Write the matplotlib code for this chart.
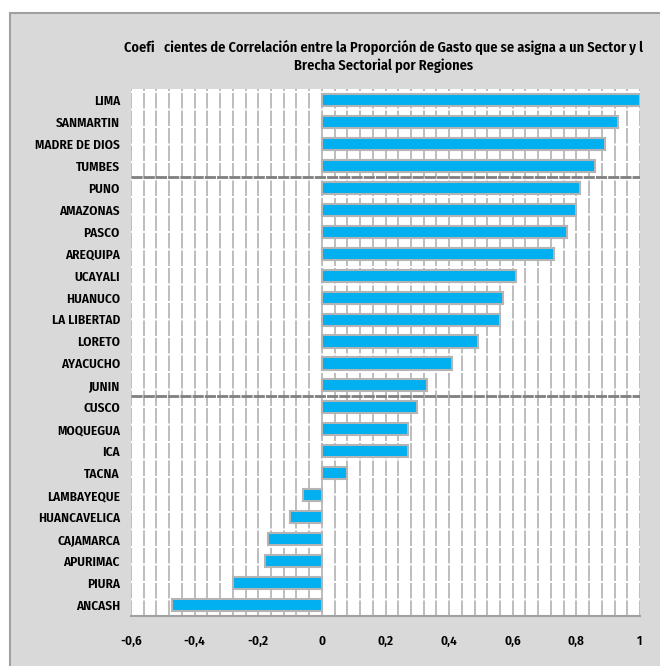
import matplotlib
matplotlib.use("Agg")
import matplotlib.pyplot as plt
from matplotlib.patches import Rectangle
import numpy as np

# regions, top to bottom
regiones = ["LIMA", "SANMARTIN", "MADRE DE DIOS", "TUMBES", "PUNO", "AMAZONAS",
            "PASCO", "AREQUIPA", "UCAYALI", "HUANUCO", "LA LIBERTAD", "LORETO",
            "AYACUCHO", "JUNIN", "CUSCO", "MOQUEGUA", "ICA", "TACNA",
            "LAMBAYEQUE", "HUANCAVELICA", "CAJAMARCA", "APURIMAC", "PIURA", "ANCASH"]
coef = [1.00, 0.93, 0.89, 0.86, 0.81, 0.80, 0.77, 0.73, 0.61, 0.57, 0.56, 0.49,
        0.41, 0.33, 0.30, 0.27, 0.27, 0.08, -0.06, -0.10, -0.17, -0.18, -0.28, -0.47]
# group separators after these rows (index of last row in group)
cortes = [3, 13]
xticks = [-0.6, -0.4, -0.2, 0, 0.2, 0.4, 0.6, 0.8, 1]
xtick_labels = ["-0,6", "-0,4", "-0,2", "0", "0,2", "0,4", "0,6", "0,8", "1"]

plt.rcParams['font.family'] = ['Fira Sans Condensed', 'PT Sans Narrow', 'DejaVu Sans']

fig = plt.figure(figsize=(6.6, 6.66), dpi=100)
fig.patch.set_facecolor("white")
fondo = Rectangle((10/660, -0.01), 0.99, 1 - 13/666 + 0.01,
                  transform=fig.transFigure, facecolor="#d9d9d9",
                  edgecolor="#a0a0a0", linewidth=1.5, zorder=-10)
fig.add_artist(fondo)

ax = fig.add_axes([131/660, 1 - 616/666, 509/660, 527/666])
ax.set_zorder(5)
ax.set_facecolor("white")

y = np.arange(len(regiones))
# grid
for gx in np.arange(-0.6, 1.0001, 0.04):
    ax.axvline(gx, color="#bdbdbd", lw=1.4, ls=(0, (8, 1)), zorder=1)
ax.barh(y, coef, height=0.55, color="#00b0f0", edgecolor="#b4b4b4",
        linewidth=1.5, zorder=3)
for c in cortes:
    ax.axhline(c + 0.5, color="#7f7f7f", lw=2, ls=(0, (4, 0.4)), zorder=4)

ax.set_xlim(-0.6, 1.0)
ax.set_ylim(len(regiones) - 0.5, -0.5)
ax.set_yticks(y)
ax.set_yticklabels(regiones, fontsize=9.5, fontweight="semibold")
ax.set_xticks(xticks)
ax.set_xticklabels(xtick_labels, fontsize=9.5, fontweight="semibold")
ax.tick_params(axis="y", length=0, pad=8)
ax.tick_params(axis="x", length=0, pad=14)
for s in ["top", "left", "right"]:
    ax.spines[s].set_visible(False)
ax.spines["bottom"].set_color("#a0a0a0")
ax.spines["bottom"].set_linewidth(1.5)

fig.text(384/660, 1 - 47/666,
         "Coefi   cientes de Correlación entre la Proporción de Gasto que se asigna a un Sector y l",
         ha="center", va="center", fontsize=10.3, fontweight="semibold")
fig.text(384/660, 1 - 66/666, "Brecha Sectorial por Regiones",
         ha="center", va="center", fontsize=10.3, fontweight="semibold")

fig.savefig("out.png", dpi=100)
